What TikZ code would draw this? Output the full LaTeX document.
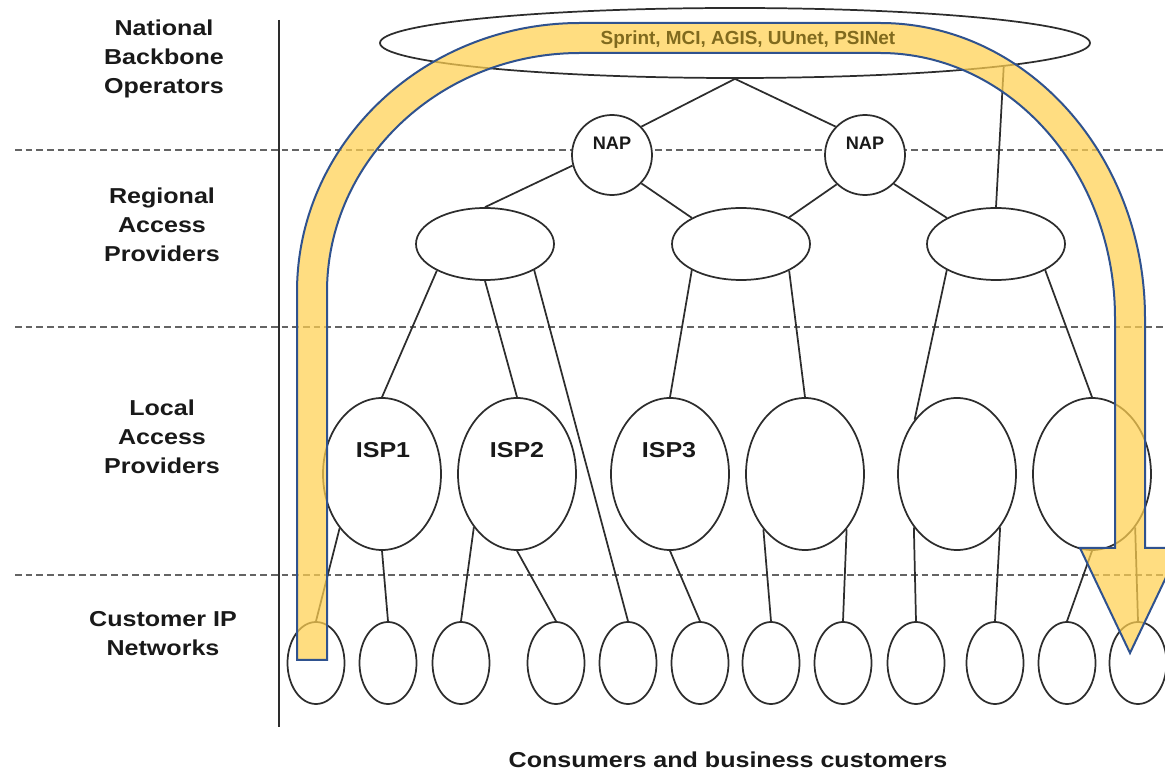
\documentclass[tikz,border=0pt]{standalone}
\usepackage{fontspec}
\newfontfamily\tierfont[FakeStretch=1.16]{Liberation Sans}
\newfontfamily\nodefont{Liberation Sans}
\usetikzlibrary{shapes.geometric}
\definecolor{bandfill}{RGB}{255,208,80}
\definecolor{bandedge}{RGB}{47,82,143}
\definecolor{bandtext}{RGB}{128,106,30}
\definecolor{ink}{RGB}{45,45,45}
\definecolor{rule}{RGB}{100,100,100}

\begin{document}
\begin{tikzpicture}[x=0.75pt,y=-0.75pt,
  tier/.style={font=\tierfont\bfseries\fontsize{16.2}{21.75}\selectfont, align=center, text=black!90, inner sep=0pt},
  netlabel/.style={font=\tierfont\bfseries\fontsize{16.2}{19}\selectfont, text=black!90, inner sep=0pt},
  naplabel/.style={font=\nodefont\bfseries\fontsize{13.6}{16}\selectfont, text=black!90, inner sep=0pt},
  carriers/.style={font=\nodefont\bfseries\fontsize{14.2}{17}\selectfont, text=bandtext, inner sep=0pt},
  sepline/.style={draw=rule, line width=1.5pt, dash pattern=on 5pt off 3pt},
  net/.style={draw=ink, line width=1.3pt, fill=white, inner sep=0pt},
  oval/.style={net, ellipse},
  backbone/.style={oval, minimum width=532.5pt, minimum height=52.5pt},
  nap/.style={net, circle, minimum size=60pt},
  regional/.style={oval, minimum width=103.5pt, minimum height=54pt},
  local/.style={oval, minimum width=88.5pt, minimum height=114pt},
  customer/.style={oval, minimum width=42.75pt, minimum height=61.5pt},
  link/.style={draw=ink, line width=1.3pt},
  band/.style={fill=bandfill, fill opacity=0.72, draw=bandedge, line width=1.5pt, line join=miter}]

\useasboundingbox (0,0) rectangle (1165,773);

% tier separators and the label column rule
\draw[sepline] (15,150) -- (1165,150);
\draw[sepline] (15,327) -- (1165,327);
\draw[sepline] (15,575) -- (1165,575);
\draw[ink, line width=1.3pt] (279,20) -- (279,727);

% tier names
\node[tier] (t1) at (164,59) {National\\Backbone\\Operators};
\node[tier] (t2) at (162,225) {Regional\\Access\\Providers};
\node[tier] (t3) at (162,437) {Local\\Access\\Providers};
\node[tier] (t4) at (163,634) {Customer IP\\Networks};
\node[tier, anchor=base] (cons) at (728,767) {Consumers and business customers};

% backbone and exchange points
\node[backbone] (nbo) at (735,43) {};
\node[nap] (nap1) at (612,155) {};
\node[nap] (nap2) at (865,155) {};
\node[naplabel] (nap1t) at (612,143) {NAP};
\node[naplabel] (nap2t) at (865,143) {NAP};

% regional providers
\node[regional] (rap1) at (485,244) {};
\node[regional] (rap2) at (741,244) {};
\node[regional] (rap3) at (996,244) {};

% local providers
\node[local] (loc1) at (382,474) {};
\node[local] (loc2) at (517,474) {};
\node[local] (loc3) at (670,474) {};
\node[local] (loc4) at (805,474) {};
\node[local] (loc5) at (957,474) {};
\node[local] (loc6) at (1092,474) {};
\node[netlabel] (isp1) at (383,450) {ISP1};
\node[netlabel] (isp2) at (517,450) {ISP2};
\node[netlabel] (isp3) at (669,450) {ISP3};

% customer networks
\foreach \i/\x in {1/316,2/388,3/461,4/556,5/628,6/700,7/771,8/843,9/916,10/995,11/1067,12/1138}
  \node[customer] (cus\i) at (\x,663) {};

% links
\draw[link] (nbo.south) -- (nap1.44);
\draw[link] (nbo.south) -- (nap2.136);
\draw[link] (nbo.-5.6) -- (rap3.north);
\draw[link] (nap1.195) -- (rap1.north);
\draw[link] (nap1.-44) -- (rap2.152);
\draw[link] (nap2.-134) -- (rap2.29);
\draw[link] (nap2.-45) -- (rap3.152);
\draw[link] (rap1.-151.6) -- (loc1.north);
\draw[link] (rap1.south) -- (loc2.north);
\draw[link] (rap1.-28.4) -- (cus5.north);
\draw[link] (rap2.-152) -- (loc3.north);
\draw[link] (rap2.-29) -- (loc4.north);
\draw[link] (rap3.-152) -- (loc5.128);
\draw[link] (rap3.-28) -- (loc6.north);
\draw[link] (loc1.-128) -- (cus1.north);
\draw[link] (loc1.south) -- (cus2.north);
\draw[link] (loc2.-129) -- (cus3.north);
\draw[link] (loc2.south) -- (cus4.north);
\draw[link] (loc3.south) -- (cus6.north);
\draw[link] (loc4.-127.5) -- (cus7.north);
\draw[link] (loc4.-53) -- (cus8.north);
\draw[link] (loc5.-129) -- (cus9.north);
\draw[link] (loc5.-51) -- (cus10.north);
\draw[link] (loc6.south) -- (cus11.north);
\draw[link] (loc6.-51) -- (cus12.north);

% traffic path: up through the hierarchy and back down
\path[band] (297,660) -- (297,292)
  arc[start angle=180, end angle=270, x radius=283, y radius=269]
  -- (880,23)
  arc[start angle=270, end angle=360, x radius=265, y radius=295]
  -- (1145,548) -- (1180,548) -- (1130,653) -- (1080,548) -- (1115,548) -- (1115,318)
  arc[start angle=0, end angle=-90, x radius=235, y radius=265]
  -- (580,53)
  arc[start angle=-90, end angle=-180, x radius=253, y radius=239]
  -- (327,660) -- cycle;

% backbone carriers, seen through the band
\node[carriers] (nbotext) at (748,40) {Sprint, MCI, AGIS, UUnet, PSINet};
\end{tikzpicture}
\end{document}
